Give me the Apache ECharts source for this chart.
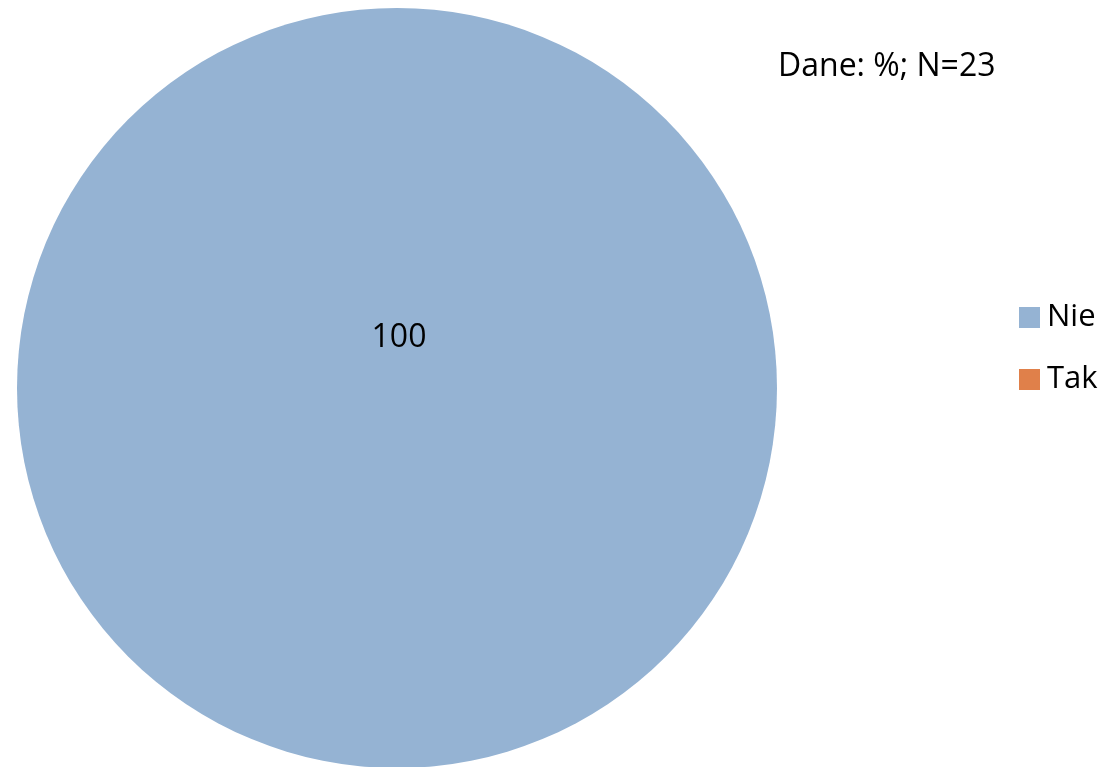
<!DOCTYPE html>
<html><head><meta charset="utf-8">
<script src="https://cdn.jsdelivr.net/npm/echarts@6/dist/echarts.min.js"></script>
<style>html,body{margin:0;padding:0;background:#fff}#c{width:1120px;height:767px}</style>
</head><body><div id="c"></div>
<script>
const categories = ["Nie", "Tak"];
const values = [100, 0];
const colors = ["#95B3D3", "#E0804A"];
const titleText = "Dane: %; N=23";

const chart = echarts.init(document.getElementById('c'), null, {renderer: 'canvas'});
const font = "Open Sans";
chart.setOption({
  animation: false,
  title: {text: titleText, left: 773, top: 46,
    textStyle: {fontFamily: font, fontSize: 32, fontWeight: 'normal', color: '#000'}},
  legend: {orient: 'vertical', left: 1014, top: 297, itemWidth: 21, itemHeight: 21, itemGap: 31,
    icon: 'rect', data: categories,
    textStyle: {fontFamily: font, fontSize: 31, color: '#000', padding: [0, 0, 0, 2]}},
  series: [{
    type: 'pie', center: [397, 388], radius: 380, startAngle: 90,
    minAngle: 0, avoidLabelOverlap: false,
    label: {show: true, position: 'center', offset: [2, -50], fontFamily: font, fontSize: 32, color: '#000',
      formatter: p => p.value > 0 ? String(p.value) : ''},
    labelLine: {show: false},
    itemStyle: {borderWidth: 0},
    emphasis: {disabled: true},
    data: categories.map((c, i) => ({name: c, value: values[i], itemStyle: {color: colors[i]}}))
  }]
});
</script></body></html>
